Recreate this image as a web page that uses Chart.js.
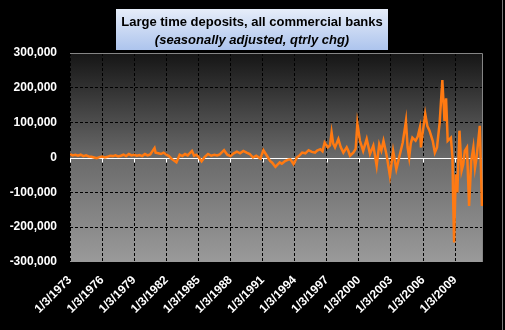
<!DOCTYPE html>
<html>
<head>
<meta charset="utf-8">
<script src="https://cdn.jsdelivr.net/npm/chart.js@4/dist/chart.umd.min.js"></script>
<style>
  html, body { margin: 0; padding: 0; background: #000; }
  canvas { display: block; }
</style>
</head>
<body>
<canvas id="deposits" width="505" height="330"></canvas>
<script>
// decimal years and quarterly change (thousands)
const dates = [
  1973.0, 1973.25, 1973.5, 1973.75, 1974.0, 1974.25, 1974.5, 1974.75,
  1975.0, 1975.25, 1975.5, 1975.75, 1976.0, 1976.25, 1976.5, 1976.75,
  1977.0, 1977.25, 1977.5, 1977.75, 1978.0, 1978.25, 1978.5, 1978.75,
  1979.0, 1979.25, 1979.5, 1979.75, 1980.0, 1980.25, 1980.5, 1980.9,
  1981.0, 1981.25, 1981.5, 1981.75, 1982.0, 1982.25, 1982.5, 1982.95,
  1983.25, 1983.5, 1983.75, 1984.0, 1984.4, 1984.6, 1984.8, 1985.0,
  1985.3, 1985.6, 1985.9, 1986.2, 1986.5, 1986.75, 1987.0, 1987.4,
  1987.7, 1988.0, 1988.3, 1988.6, 1988.9, 1989.2, 1989.5, 1989.8,
  1990.1, 1990.4, 1990.8, 1991.07, 1991.4, 1991.7, 1991.9, 1992.2,
  1992.6, 1992.8, 1993.1, 1993.4, 1993.6, 1993.9, 1994.2, 1994.45,
  1994.7, 1995.0, 1995.3, 1995.6, 1995.9, 1996.1, 1996.4, 1996.6,
  1996.8, 1997.1, 1997.3, 1997.45, 1997.6, 1997.77, 1998.08, 1998.3,
  1998.55, 1998.86, 1999.0, 1999.17, 1999.48, 1999.7, 1999.86, 2000.1,
  2000.4, 2000.73, 2001.04, 2001.35, 2001.66, 2001.9, 2002.1, 2002.3,
  2002.6, 2002.9, 2003.2, 2003.5, 2003.8, 2004.1, 2004.4, 2004.55,
  2004.7, 2004.85, 2005.0, 2005.3, 2005.5, 2005.7, 2005.8, 2006.0,
  2006.2, 2006.4, 2006.6, 2006.9, 2007.1, 2007.3, 2007.55, 2007.8,
  2008.0, 2008.15, 2008.3, 2008.6, 2008.75, 2008.8, 2008.9, 2009.05,
  2009.2, 2009.4, 2009.6, 2009.75, 2009.9, 2010.1, 2010.3, 2010.5,
  2010.7, 2010.85, 2011.0, 2011.3, 2011.5
];
const values = [
  10, 6, 8, 5, 8, 4, 6, 3,
  2, 0, -2, 1, 3, 0, 2, 5,
  4, 6, 3, 5, 8, 4, 10, 6,
  8, 5, 7, 4, 10, 6, 9, 27,
  14, 12, 10, 14, 8, 4, -4, -14,
  8, 4, 10, 6, 19, 5, 8, 2,
  -11, 2, 10, 5, 8, 6, 9, 21,
  8, 4, 12, 17, 12, 19, 14, 10,
  0, 5, -3, 21, 5, -10, -15, -27,
  -14, -18, -10, -6, -5, -19, 0, 6,
  14, 12, 21, 16, 14, 20, 24, 18,
  43, 29, 35, 72, 40, 29, 53, 30,
  14, 29, 20, 5, 14, 25, 98, 48,
  19, 53, 10, 34, -24, 38, 20, 48,
  5, -53, 19, -34, 5, 43, 105, 30,
  0, 40, 57, 48, 60, 86, 29, 80,
  125, 90, 77, 48, 14, 29, 100, 222,
  105, 170, 48, 57, 0, -105, -244, -48,
  -100, 77, -38, -20, 19, 29, -139, -10,
  29, -30, 0, 91, -139
];
const tickLabels = [
  "1/3/1973", "1/3/1976", "1/3/1979", "1/3/1982", "1/3/1985", "1/3/1988", "1/3/1991",
  "1/3/1994", "1/3/1997", "1/3/2000", "1/3/2003", "1/3/2006", "1/3/2009"
];
const titleLines = ["Large time deposits, all commercial banks", "(seasonally adjusted, qtrly chg)"];

const points = dates.map((d, i) => ({ x: d, y: values[i] * 1000 }));
const tickYears = tickLabels.map(l => +l.split("/")[2]);

const backdrop = {
	id: "backdrop",
	beforeDraw(chart) {
		const { ctx, chartArea: a, width, height } = chart;
		ctx.save();
		ctx.fillStyle = "#000";
		ctx.fillRect(0, 0, width, height);
		const g = ctx.createLinearGradient(0, a.top, 0, a.bottom);
		g.addColorStop(0, "#151515");
		g.addColorStop(0.5, "#6a6a6a");
		g.addColorStop(1, "#9a9a9a");
		ctx.fillStyle = g;
		ctx.fillRect(a.left, a.top, a.right - a.left, a.bottom - a.top);

		// title box
		const tg = ctx.createLinearGradient(0, 9, 0, 50);
		tg.addColorStop(0, "#e6edf9");
		tg.addColorStop(1, "#adc4ed");
		ctx.fillStyle = tg;
		ctx.fillRect(116, 9, 272, 41);
		ctx.fillStyle = "#000";
		ctx.textAlign = "center";
		ctx.textBaseline = "middle";
		ctx.font = "bold 13px Arial, 'Liberation Sans'";
		ctx.fillText(titleLines[0], 252, 22);
		ctx.font = "italic bold 13px Arial, 'Liberation Sans'";
		ctx.fillText(titleLines[1], 252, 40);

		// outer frame line on the right
		ctx.strokeStyle = "#7a7a7a";
		ctx.lineWidth = 1;
		ctx.beginPath();
		ctx.moveTo(502.5, 0);
		ctx.lineTo(502.5, height);
		ctx.stroke();
		ctx.restore();
	},
	beforeDatasetsDraw(chart) {
		const { ctx, chartArea: a, scales } = chart;
		const y0 = Math.round(scales.y.getPixelForValue(0)) + 0.5;
		ctx.save();
		ctx.strokeStyle = "#fff";
		ctx.lineWidth = 1;
		ctx.beginPath();
		ctx.moveTo(a.left, y0);
		ctx.lineTo(a.right, y0);
		tickYears.forEach(t => {
			const x = Math.round(scales.x.getPixelForValue(t)) + 0.5;
			ctx.moveTo(x, y0);
			ctx.lineTo(x, y0 + 4);
		});
		ctx.stroke();
		// plot frame, top and right
		ctx.strokeStyle = "#858585";
		ctx.beginPath();
		ctx.moveTo(a.left, a.top + 0.5);
		ctx.lineTo(a.right - 0.5, a.top + 0.5);
		ctx.lineTo(a.right - 0.5, a.bottom);
		ctx.stroke();
		ctx.restore();
	},
};

const depositsChart = new Chart(document.getElementById("deposits"), {
	type: "line",
	data: {
		datasets: [
			{
				data: points,
				borderColor: "#ff7a12",
				borderWidth: 2.5,
				pointRadius: 0,
				tension: 0,
			},
		],
	},
	plugins: [backdrop],
	options: {
		responsive: false,
		animation: false,
		layout: {
			padding: { left: 0, right: 22, top: 53, bottom: 0 },
		},
		plugins: {
			legend: false,
			tooltip: { enabled: false },
		},
		scales: {
			x: {
				type: "linear",
				min: 1973,
				max: 2011.6,
				afterBuildTicks: scale => {
					scale.ticks = tickYears.map(v => ({ value: v }));
				},
				afterFit: scale => {
					scale.height = 68;
				},
				grid: {
					color: "#000",
					lineWidth: 1,
					drawTicks: false,
				},
				border: { display: false, dash: [3, 2] },
				ticks: {
					autoSkip: false,
					maxRotation: 45,
					minRotation: 45,
					padding: 11,
					color: "#fff",
					font: { family: "Arial, 'Liberation Sans'", size: 12, weight: "bold" },
					callback: (value, i) => tickLabels[i],
				},
			},
			y: {
				min: -300000,
				max: 300000,
				afterFit: scale => {
					scale.width = 70;
				},
				grid: {
					color: ctx => (ctx.tick && ctx.tick.value === 0 ? "rgba(0,0,0,0)" : "#000"),
					lineWidth: 1,
					drawTicks: false,
				},
				border: { display: false, dash: [3, 2] },
				ticks: {
					stepSize: 100000,
					padding: 13,
					color: "#fff",
					font: { family: "Arial, 'Liberation Sans'", size: 12, weight: "bold" },
					callback: value => value.toLocaleString("en-US"),
				},
			},
		},
	},
});
</script>
</body>
</html>
